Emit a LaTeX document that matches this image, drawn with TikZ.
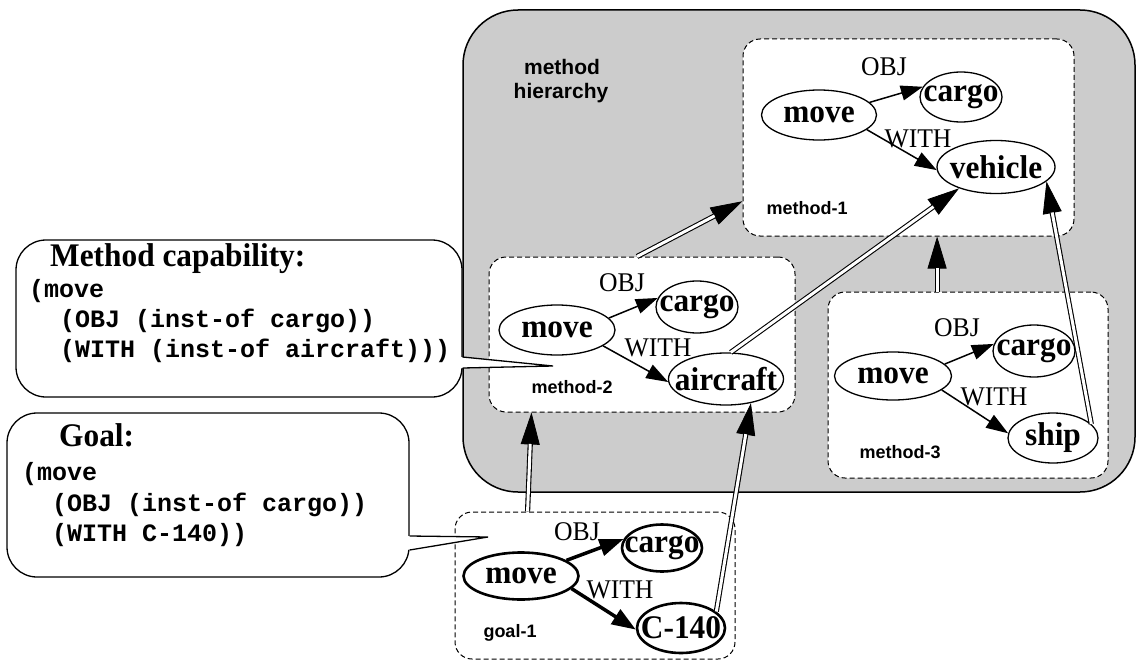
\documentclass[tikz,border=0pt]{standalone}
\usepackage{fontspec}
\setmainfont{Liberation Serif}
\setsansfont{Liberation Sans}
\setmonofont{Liberation Mono}
\newfontfamily\tallserif[FakeStretch=0.95]{Liberation Serif}
\usetikzlibrary{arrows.meta,shapes.geometric,calc}
\definecolor{boxgray}{RGB}{204,204,204}
\tikzset{
 ell/.style={ellipse, draw, line width=1.3pt, inner xsep=-30pt, inner ysep=-20pt, fill=white, font=\tallserif\fontsize{33}{33}\selectfont\bfseries},
 gell/.style={ell, line width=2.6pt},
 rel/.style={inner sep=0pt, font=\tallserif\fontsize{27}{27}\selectfont},
 rarrow/.style={-{Triangle[length=22pt,width=15pt]}, line width=1.5pt},
 garrow/.style={-{Triangle[length=24pt,width=17pt]}, line width=3.5pt},
 dbox/.style={draw, dash pattern=on 5pt off 3pt, line width=1pt, fill=white, rounded corners=17pt, inner sep=0pt},
 blabel/.style={inner sep=0pt, font=\sffamily\bfseries\fontsize{18}{18}\selectfont},
 hlabel/.style={inner sep=0pt, font=\sffamily\bfseries\fontsize{21}{21}\selectfont},
 hiertip/.style={-{Triangle[length=32pt,width=19pt]}, line width=0.8pt},
 hierline/.style={double=white, double distance=3pt, line width=1.1pt, shorten >=31.5pt},
 callout/.style={draw, fill=white, line width=1.3pt, rounded corners=30pt, inner sep=0pt},
 pointer/.style={line width=1.3pt},
 code/.style={anchor=base west, inner sep=0pt, font=\ttfamily\bfseries\fontsize{25}{25}\selectfont},
 ctitle/.style={anchor=base west, inner sep=0pt, font=\tallserif\bfseries\fontsize{33}{33}\selectfont},
}
\newcommand\hierarr[2]{\draw[hiertip] #1 -- #2; \draw[hierline] #1 -- #2;}
\begin{document}
\begin{tikzpicture}[x=1pt,y=-1pt]
\useasboundingbox (0,0) rectangle (1137,661);
% gray method hierarchy area
\draw[line width=1.5pt, fill=boxgray, rounded corners=55pt] (463,10) rectangle (1135,492);
\node[hlabel] (mh1) at (562,67) {method};
\node[hlabel] (mh2) at (561,93) {hierarchy};

% method-1
\node[dbox, minimum width=331pt, minimum height=197pt] (m1box) at (908.5,137.5) {};
\node[ell, minimum width=82pt, minimum height=50pt] (cargo1) at (961,97) {cargo};
\node[ell, minimum width=115pt, minimum height=50pt] (move1) at (819,115) {move};
\node[ell, minimum width=118pt, minimum height=53pt] (veh1) at (996,167) {vehicle};
\node[rel] (obj1) at (884,67) {OBJ};
\node[rel] (with1) at (918,139) {WITH};
\node[blabel] (lab1) at (807,208) {method-1};
\draw[rarrow] (move1.14) -- (cargo1.165);
\draw[rarrow] (move1.-17) -- (veh1.183);

% method-2
\node[dbox, minimum width=306pt, minimum height=155pt] (m2box) at (642,334.5) {};
\node[ell, minimum width=82pt, minimum height=52pt] (cargo2) at (697,307) {cargo};
\node[ell, minimum width=116pt, minimum height=50pt] (move2) at (557,330) {move};
\node[ell, minimum width=115pt, minimum height=52pt] (air2) at (726,379) {aircraft};
\node[rel] (obj2) at (622,283) {OBJ};
\node[rel] (with2) at (658,348) {WITH};
\node[blabel] (lab2) at (572,387) {method-2};
\draw[rarrow] (move2.13) -- (cargo2.167);
\draw[rarrow] (move2.-19) -- (air2.183);

% method-3
\node[dbox, minimum width=280pt, minimum height=186pt] (m3box) at (968,385) {};
\node[ell, minimum width=82pt, minimum height=52pt] (cargo3) at (1034,351) {cargo};
\node[ell, minimum width=117pt, minimum height=48pt] (move3) at (893,376) {move};
\node[ell, minimum width=90pt, minimum height=50pt] (ship3) at (1053,438) {ship};
\node[rel] (obj3) at (957,328) {OBJ};
\node[rel] (with3) at (994,397) {WITH};
\node[blabel] (lab3) at (900,452) {method-3};
\draw[rarrow] (move3.13) -- (cargo3.170);
\draw[rarrow] (move3.-16) -- (ship3.174);

% goal-1
\node[dbox, minimum width=280pt, minimum height=147pt] (g1box) at (595,585.5) {};
\node[gell, minimum width=80pt, minimum height=47pt] (cargog) at (662,548) {cargo};
\node[gell, minimum width=115pt, minimum height=47pt] (moveg) at (521,576) {move};
\node[gell, minimum width=88pt, minimum height=50pt] (c140) at (681,628) {C-140};
\node[rel] (objg) at (577,532) {OBJ};
\node[rel] (withg) at (620,590) {WITH};
\node[blabel] (labg) at (510,633) {goal-1};
\draw[garrow] (moveg.19) -- (cargog.167);
\draw[garrow] (moveg.-14) -- (c140.182);

% hierarchy arrows
\coordinate (h1s) at ($(m2box.north west)!0.484!(m2box.north east)$);
\coordinate (h3a) at ($(m3box.north west)!0.39!(m3box.north east)$);
\coordinate (h5s) at ($(g1box.north west)!0.26!(g1box.north east)$);
\coordinate (h5t) at ($(m2box.south west)!0.14!(m2box.south east)$);
\hierarr{(h1s)}{(m1box.201)}
\hierarr{(air2.80)}{(veh1.210)}
\hierarr{(h3a)}{(h3a |- m1box.south)}
\hierarr{(ship3.20)}{(veh1.-16)}
\hierarr{(h5s)}{(h5t)}
\hierarr{(c140.25)}{(air2.-44)}

% callout: method capability
\node[callout, minimum width=446pt, minimum height=157pt] (cap1) at (239,318.5) {};
\coordinate (cap1tip) at (553,366);
\coordinate (p1a) at ($(cap1.east)+(0,38.5)$);
\coordinate (p1b) at ($(cap1.east)+(0,49.5)$);
\fill[white] ($(p1a)+(-3,0)$) -- (cap1tip) -- ($(p1b)+(-3,0)$) -- cycle;
\draw[pointer] (p1a) -- (cap1tip) -- (p1b);
\node[ctitle] (t1) at (50,266) {Method capability:};
\node[code] (c1a) at (29,297) {(move};
\node[code] (c1b) at (60,327) {(OBJ (inst-of cargo))};
\node[code] (c1c) at (60,357) {(WITH (inst-of aircraft)))};

% callout: goal
\node[callout, minimum width=402pt, minimum height=164pt] (cap2) at (208,495) {};
\coordinate (cap2tip) at (488,537);
\coordinate (p2a) at ($(cap2.east)+(0,41)$);
\coordinate (p2b) at ($(cap2.east)+(0,55)$);
\fill[white] ($(p2a)+(-3,0)$) -- (cap2tip) -- ($(p2b)+(-3,0)$) -- cycle;
\draw[pointer] (p2a) -- (cap2tip) -- (p2b);
\node[ctitle] (t2) at (59,446) {Goal:};
\node[code] (c2a) at (22,480) {(move};
\node[code] (c2b) at (52,511) {(OBJ (inst-of cargo))};
\node[code] (c2c) at (52,541) {(WITH C-140))};
\end{tikzpicture}
\end{document}
